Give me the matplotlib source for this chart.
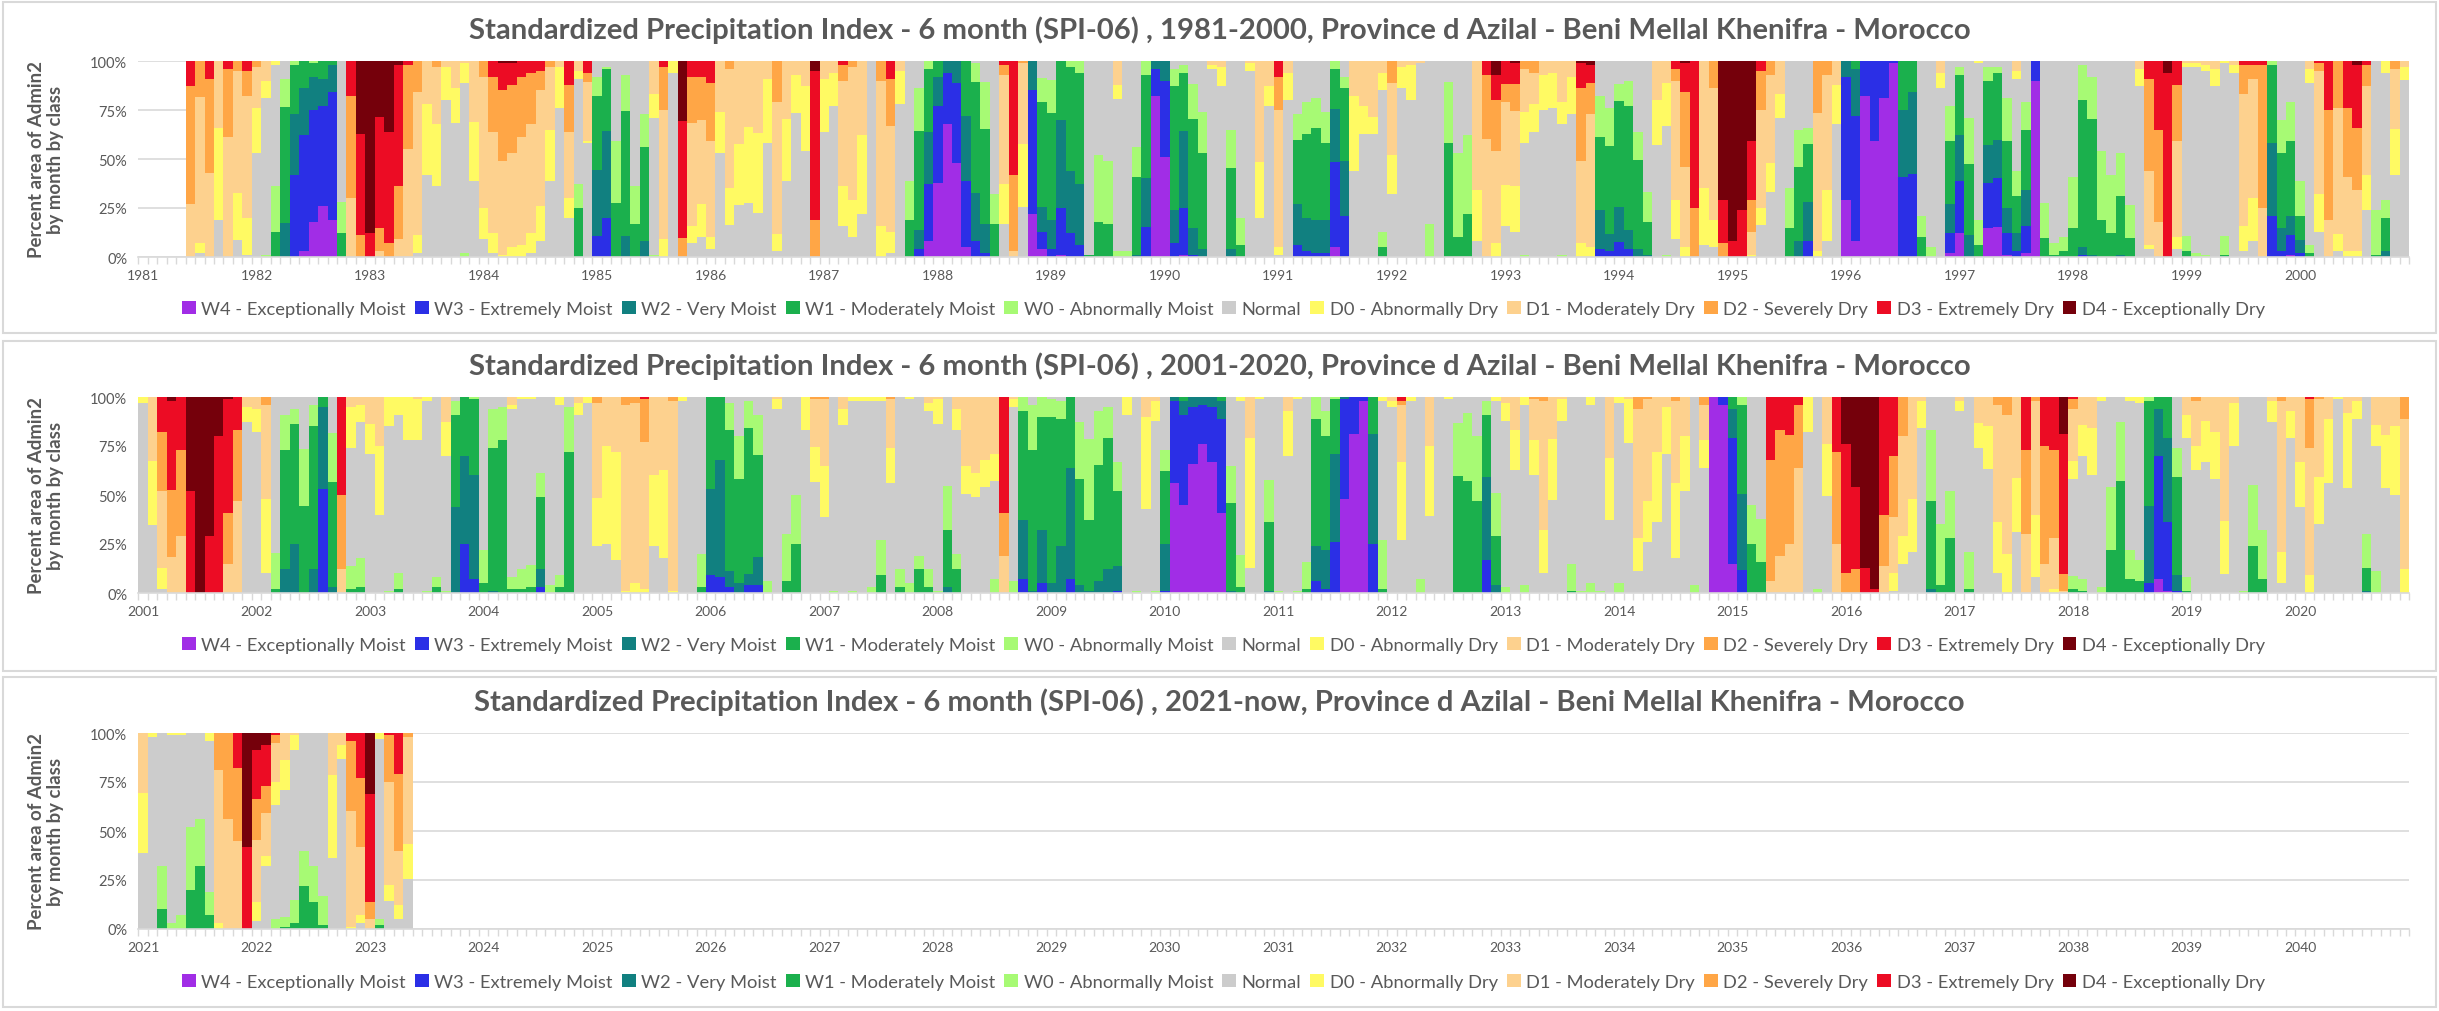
import numpy as np
import matplotlib
matplotlib.use("Agg")
import matplotlib.pyplot as plt
from matplotlib.patches import Patch, Rectangle

plt.rcParams['font.family'] = ['Lato', 'DejaVu Sans']

# ---------------- data ----------------
CLASSES = ["W4", "W3", "W2", "W1", "W0", "N", "D0", "D1", "D2", "D3", "D4"]
LABELS = ["W4 - Exceptionally Moist", "W3 - Extremely Moist", "W2 - Very Moist",
          "W1 - Moderately Moist", "W0 - Abnormally Moist", "Normal",
          "D0 - Abnormally Dry", "D1 - Moderately Dry", "D2 - Severely Dry",
          "D3 - Extremely Dry", "D4 - Exceptionally Dry"]
COLORS = ["#A12DE6", "#2B2FE6", "#118080", "#1BB04D", "#A7FA74", "#CCCCCC",
          "#FFFA63", "#FDD18E", "#FFA646", "#EC0C24", "#75000B"]

# percent area per class, one string per month (Jan..Dec)
months_1981_2000 = [
    "", "", "", "", "", "D3 13 D2 60 D1 27", "D2 18 D1 74 D0 5 N 2", "D3 9 D2 48 D1 43",
    "D1 34 D0 47 N 19", "D3 4 D2 35 D1 62", "D2 5 D1 63 D0 24 N 9", "D3 5 D2 13 D1 62 D0 19 N 1",
    # 1982
    "D2 3 D1 21 D0 23 N 53", "D1 10 D0 9 N 80 W0 1", "D0 2 N 62 W0 23 W1 13", "N 9 W0 14 W1 59 W2 17",
    "W0 2 W1 25 W2 31 W3 42", "W1 14 W2 24 W3 59 W4 3", "W0 1 W1 7 W2 17 W3 57 W4 18", "W1 9 W2 14 W3 51 W4 26",
    "W1 2 W2 14 W3 65 W4 19", "N 72 W0 16 W1 12", "D3 18 D2 52 D1 30", "D4 37 D3 52 D2 11",
    # 1983
    "D4 88 D3 12", "D4 29 D3 57 D2 12 D1 3", "D4 36 D3 57 D2 7", "D4 2 D3 62 D2 27 D1 9",
    "D3 2 D2 43 D1 55", "D2 16 D1 73 D0 9 N 2", "D1 22 D0 36 N 42", "D2 3 D1 29 D0 32 N 36",
    "D1 3 D0 17 N 80", "D1 14 D0 18 N 69", "D1 1 D0 10 N 87 W0 2", "D1 31 D0 30 N 39",
    # 1984
    "D2 8 D1 67 D0 16 N 9", "D3 8 D2 28 D1 52 D0 10 N 2", "D4 1 D3 14 D2 36 D1 48 D0 1", "D4 1 D3 11 D2 35 D1 48 D0 5",
    "D3 8 D2 31 D1 56 D0 6", "D3 6 D2 26 D1 56 D0 10 N 2", "D3 5 D2 10 D1 59 D0 18 N 8", "D2 3 D1 32 D0 26 N 39",
    "D1 3 D0 21 N 77", "D3 12 D2 24 D1 34 D0 10 N 20", "D1 5 D0 4 N 54 W0 12 W1 25", "D3 6 D2 5 D1 30 D0 1 N 59",
    # 1985
    "N 8 W0 10 W1 38 W2 34 W3 11", "N 3 W0 1 W1 32 W2 45 W3 20", "N 41 W0 32 W1 28", "N 7 W0 19 W1 64 W2 11",
    "N 64 W0 19 W1 17", "N 27 W0 17 W1 48 W2 8", "D1 17 D0 12 N 70 W0 1", "D3 3 D2 22 D1 65 D0 9",
    "D0 6 N 94", "D4 31 D3 60 D2 10", "D3 8 D2 24 D1 53 D0 9 N 7", "D3 8 D2 22 D1 43 D0 17 N 10",
    # 1986
    "D3 11 D2 30 D1 49 D0 6 N 4", "D1 26 D0 21 N 53", "D2 4 D1 60 D0 19 N 16", "D1 43 D0 31 N 27",
    "D1 33 D0 38 N 27", "D1 36 D0 40 N 22", "D1 9 D0 32 N 57", "D2 21 D1 68 D0 9 N 3",
    "D1 30 D0 32 N 39", "D1 7 D0 20 N 74", "D1 13 D0 33 N 54", "D4 5 D3 76 D2 19",
    # 1987
    "D1 9 D0 27 N 64", "D1 6 D0 17 N 77", "D3 2 D2 8 D1 54 D0 20 N 16", "D2 3 D1 68 D0 19 N 10",
    "D1 38 D0 40 N 22", "N 100", "D2 10 D1 74 D0 16", "D3 9 D2 24 D1 54 D0 11 N 2",
    "D1 5 D0 17 N 78", "N 61 W0 20 W1 19", "N 14 W0 22 W1 51 W2 10 W3 4", "W0 4 W1 32 W2 27 W3 29 W4 8",
    # 1988
    "W1 8 W2 15 W3 40 W4 38", "W2 6 W3 26 W4 67", "W2 11 W3 41 W4 48", "W1 28 W2 33 W3 34 W4 5",
    "N 1 W0 10 W1 57 W2 25 W3 8", "N 11 W0 24 W1 49 W2 15 W3 2", "N 68 W0 15 W1 17", "D3 2 D2 5 D1 56 D0 20 N 17",
    "D3 58 D2 39 D1 3", "D2 1 D1 42 D0 32 N 26", "W2 15 W3 63 W4 22", "N 9 W0 12 W1 54 W2 13 W3 9 W4 4",
    # 1989
    "N 10 W0 17 W1 55 W2 15 W3 4", "W1 30 W2 45 W3 24 W4 1", "W0 3 W1 53 W2 32 W3 12", "W0 6 W1 57 W2 31 W3 6",
    "N 99 W1 1", "N 48 W0 34 W1 18", "N 51 W0 32 W1 17", "D1 12 D0 7 N 77 W0 3",
    "N 97 W0 3", "N 44 W0 15 W1 40 W2 1", "W0 7 W1 52 W2 25 W3 15", "W2 4 W3 14 W4 83",
    # 1990
    "W2 10 W3 39 W4 51", "N 4 W0 9 W1 63 W2 17 W3 7", "N 2 W0 4 W1 30 W2 40 W3 24 W4 1", "N 12 W0 18 W1 56 W2 14 W3 1",
    "N 26 W0 21 W1 49 W2 4", "D1 2 D0 2 N 96", "D1 3 D0 10 N 87", "N 35 W0 19 W1 41 W2 4",
    "N 80 W0 14 W1 6", "D1 1 D0 4 N 95", "D1 52 D0 29 N 20", "D1 13 D0 10 N 77",
    # 1991
    "D3 8 D2 17 D1 70 D0 4 N 1", "D1 6 D0 14 N 80", "N 27 W0 13 W1 32 W2 21 W3 6", "N 21 W0 16 W1 43 W2 17 W3 3",
    "N 19 W0 15 W1 47 W2 17 W3 2", "N 26 W0 16 W1 39 W2 17 W3 2", "W0 4 W1 20 W2 27 W3 43 W4 5", "N 8 W0 6 W1 37 W2 28 W3 21",
    "D1 18 D0 38 N 44", "D1 23 D0 14 N 63", "D1 29 D0 9 N 64", "D1 6 D0 9 N 73 W0 8 W1 5",
    # 1992
    "D2 11 D1 37 D0 20 N 32", "D1 3 D0 11 N 86", "D1 2 D0 18 N 81", "D1 1 N 99",
    "N 83 W0 17", "N 100", "N 11 W0 31 W1 59", "N 47 W0 43 W1 10",
    "N 38 W0 40 W1 22", "D1 66 D0 26 N 8", "D3 7 D2 33 D1 60", "D4 7 D3 13 D2 26 D1 47 D0 7",
    # 1993
    "D3 12 D2 9 D1 43 D0 21 N 16", "D4 1 D3 11 D2 14 D1 39 D0 24 N 13", "D2 4 D1 22 D0 16 N 57 W0 1", "D2 6 D1 16 D0 14 N 64",
    "D1 7 D0 18 N 75", "D1 6 D0 18 N 76", "D1 21 D0 11 N 67 W0 1", "D1 8 D0 19 N 73",
    "D4 1 D3 13 D2 37 D1 42 D0 7", "D4 2 D3 9 D2 16 D1 68 D0 5", "N 18 W0 21 W1 38 W2 20 W3 4", "N 24 W0 20 W1 45 W2 9 W3 3",
    # 1994
    "N 12 W0 9 W1 55 W2 18 W3 8", "N 10 W0 13 W1 63 W2 10 W3 4", "N 36 W0 14 W1 45 W2 4", "N 67 W0 15 W1 17 W2 1",
    "D1 20 D0 23 N 57", "D1 11 D0 22 N 66 W0 1", "D3 4 D2 6 D1 61 D0 20 N 9", "D4 1 D3 15 D2 38 D1 41 D0 5",
    "D3 75 D2 25", "D1 65 D0 29 N 6", "D2 14 D1 67 D0 14 N 5", "D4 71 D3 22 D2 7",
    # 1995
    "D4 93 D3 8", "D4 76 D3 24", "D4 41 D3 30 D2 16 D1 12 D0 1", "D3 5 D2 20 D1 49 D0 9 N 16",
    "D2 7 D1 45 D0 15 N 33", "D1 17 D0 12 N 71", "N 65 W0 20 W1 15", "N 35 W0 19 W1 38 W2 8",
    "N 34 W0 8 W1 29 W2 20 W3 8", "D2 27 D1 71 D0 3", "D2 7 D1 59 D0 26 N 8", "D1 12 D0 20 N 67",
    # 1996
    "W2 8 W3 63 W4 29", "W1 4 W2 24 W3 64 W4 8", "W3 18 W4 83", "W3 41 W4 59",
    "W3 19 W4 81", "W3 1 W4 99", "W1 25 W2 35 W3 41", "W1 16 W2 42 W3 43",
    "N 79 W0 11 W1 10", "N 95 W0 5", "D1 6 D0 8 N 86", "N 23 W0 18 W1 32 W2 15 W3 10 W4 2",
    # 1997
    "N 3 W0 4 W1 31 W2 23 W3 27 W4 12", "N 29 W0 23 W1 36 W2 11", "D0 1 N 80 W0 13 W1 6", "N 3 W0 7 W1 33 W2 19 W3 23 W4 15",
    "N 3 W0 3 W1 34 W2 19 W3 25 W4 15", "N 19 W0 22 W1 34 W2 13 W3 11 W4 1", "D1 5 D0 4 N 47 W0 13 W1 19 W2 9 W3 3", "N 21 W0 14 W1 31 W2 18 W3 14 W4 2",
    "W3 10 W4 90", "N 73 W0 18 W1 10", "N 94 W0 6 W1 1", "N 90 W0 7 W1 3",
    # 1998
    "N 59 W0 26 W1 15", "N 2 W0 18 W1 75 W2 4 W3 1", "N 8 W0 22 W1 70 W2 1", "N 46 W0 35 W1 19",
    "N 58 W0 30 W1 12", "N 47 W0 22 W1 30 W2 1", "N 74 W0 17 W1 10", "D1 4 D0 9 N 87",
    "D3 9 D2 47 D1 38 D0 2 N 4", "D3 35 D2 47 D1 18", "D4 6 D3 94", "D3 12 D2 29 D1 49 D0 6 N 4",
    # 1999
    "D1 1 D0 2 N 87 W0 8 W1 3", "D1 1 D0 2 N 95 W0 2", "D1 2 D0 3 N 94 W0 1", "D1 4 D0 9 N 87",
    "D0 1 N 89 W0 10 W1 1", "D1 2 D0 4 N 94", "D3 2 D2 15 D1 68 D0 13 N 3", "D3 2 D2 7 D1 61 D0 22 N 8",
    "D3 2 D2 73 D1 25", "W0 2 W1 40 W2 37 W3 21", "N 30 W0 17 W1 38 W2 12 W3 3", "N 21 W0 20 W1 38 W2 10 W3 10 W4 1",
    # 2000
    "N 62 W0 18 W1 12 W2 7 W3 2", "D1 4 D0 7 N 83 W0 4 W1 2", "D3 1 D2 4 D1 63 D0 19 N 13", "D3 25 D2 56 D1 19",
    "D2 24 D1 65 D0 9 N 3", "D3 24 D2 36 D1 38 D0 3", "D4 2 D3 33 D2 32 D1 32 D0 3", "D3 2 D2 11 D1 45 D0 18 N 24",
    "N 76 W0 23 W1 1", "D0 6 N 65 W0 9 W1 17 W2 3", "D2 4 D1 31 D0 24 N 42", "D1 3 D0 7 N 91",
]

months_2001_2020 = [
    # 2001
    "D0 3 N 97", "D1 33 D0 33 N 35", "D3 18 D2 30 D1 39 D0 11 N 2", "D4 2 D3 45 D2 34 D1 18",
    "D3 27 D2 44 D1 29", "D4 48 D3 52", "D4 100", "D4 71 D3 29",
    "D4 20 D3 80", "D4 1 D3 58 D2 26 D1 15", "D3 17 D2 36 D1 47", "D1 5 D0 8 N 87",
    # 2002
    "D1 6 D0 12 N 82", "D2 4 D1 48 D0 38 N 10", "N 79 W0 18 W1 2", "N 9 W0 18 W1 61 W2 12",
    "N 6 W0 8 W1 61 W2 25", "N 27 W0 29 W1 45", "N 4 W0 11 W1 73 W2 12", "W1 5 W2 42 W3 53",
    "N 18 W0 25 W1 53 W2 3", "D3 50 D2 38 D1 12", "D1 5 D0 21 N 60 W0 12 W1 2", "D1 4 D0 9 N 69 W0 15 W1 3",
    # 2003
    "D1 14 D0 15 N 71", "D1 25 D0 35 N 40", "D0 15 N 84 W0 1", "D0 9 N 80 W0 8 W1 2",
    "D0 22 N 78", "D1 1 D0 21 N 78", "D0 2 N 96 W0 1", "N 92 W0 5 W1 3",
    "D1 13 D0 17 N 69 W0 1", "N 2 W0 7 W1 47 W2 44", "W1 30 W2 45 W3 25", "W0 1 W1 39 W2 53 W3 7",
    # 2004
    "N 79 W0 17 W1 5", "N 6 W0 20 W1 73 W2 1", "N 5 W0 17 W1 78", "D1 4 D0 2 N 86 W0 6 W1 2",
    "D0 1 N 87 W0 10 W1 2", "D0 1 N 84 W0 11 W1 3", "N 39 W0 12 W1 37 W2 9 W3 3", "N 96 W0 4",
    "D0 4 N 87 W0 6 W1 3", "N 5 W0 23 W1 72", "D1 3 D0 6 N 91", "D0 3 N 97",
    # 2005
    "D2 3 D1 49 D0 25 N 24", "D1 25 D0 49 N 25", "D1 28 D0 55 N 17", "D2 4 D1 95 D0 1",
    "D2 3 D1 92 D0 5", "D3 1 D2 22 D1 75 D0 2", "D1 40 D0 36 N 24", "D1 37 D0 45 N 18",
    "D2 2 D1 96 D0 1", "D0 2 N 98", "N 100", "N 80 W0 17 W1 3",
    # 2006
    "W1 47 W2 44 W3 9", "W1 32 W2 60 W3 8", "N 3 W0 14 W1 72 W2 8 W3 3", "N 20 W0 22 W1 53 W2 5",
    "N 2 W0 14 W1 75 W2 6 W3 4", "N 9 W0 20 W1 51 W2 14 W3 4", "N 94 W0 6", "D1 1 D0 5 N 94",
    "N 70 W0 24 W1 6", "N 50 W0 25 W1 25", "D0 17 N 83", "D2 1 D1 25 D0 18 N 58",
    # 2007
    "D2 1 D1 34 D0 26 N 39", "N 99 W0 1", "D1 6 D0 8 N 85", "D0 2 N 97 W0 1",
    "D0 2 N 98", "D0 2 N 95 W0 3", "D0 2 N 71 W0 18 W1 9", "D2 1 D1 25 D0 18 N 56",
    "N 88 W0 9 W1 3", "D0 1 N 94 W0 5", "N 81 W0 7 W1 12", "D1 3 D0 4 N 81 W0 9 W1 3",
    # 2008
    "D1 1 D0 13 N 86 W0 1", "N 45 W0 22 W1 29 W2 3", "D1 6 D0 11 N 63 W0 8 W1 12", "D1 35 D0 14 N 50",
    "D1 39 D0 12 N 49", "D1 32 D0 14 N 54", "D1 29 D0 14 N 50 W0 7", "D3 59 D2 22 D1 19",
    "D1 1 D0 4 N 89 W0 6", "W0 7 W1 56 W2 30 W3 7", "N 4 W0 23 W1 72 W2 1", "W0 10 W1 58 W2 27 W3 5",
    # 2009
    "N 1 W0 9 W1 85 W2 5", "N 2 W0 9 W1 65 W2 24", "W1 36 W2 56 W3 7", "N 13 W0 29 W1 54 W2 4",
    "N 21 W0 41 W1 36 W2 1", "N 7 W0 28 W1 60 W2 6", "N 5 W0 16 W1 67 W2 12", "N 33 W0 15 W1 38 W2 13 W3 1",
    "D0 9 N 91", "N 99 W0 1", "D1 10 D0 47 N 43", "D1 2 D0 10 N 87 W0 1",
    # 2010
    "N 27 W0 11 W1 37 W2 24 W3 1", "W2 2 W3 42 W4 56", "W1 2 W2 7 W3 46 W4 45", "W2 5 W3 29 W4 65",
    "W2 4 W3 20 W4 76", "W2 5 W3 28 W4 67", "W1 2 W2 9 W3 48 W4 41", "N 35 W0 19 W1 45 W2 1",
    "D0 2 N 78 W0 16 W1 3", "D1 21 D0 66 N 13", "D0 1 N 99", "N 42 W0 21 W1 35 W2 1",
    # 2011
    "N 99 W0 1", "D1 7 D0 23 N 70", "D0 1 N 98 W0 1", "N 84 W0 14 W1 2",
    "W0 11 W1 65 W2 18 W3 6", "N 7 W0 13 W1 59 W2 20 W3 2", "W0 1 W1 28 W2 45 W3 26", "W2 1 W3 51 W4 48",
    "W3 19 W4 81", "W3 2 W4 98", "W1 19 W2 56 W3 25", "D0 2 N 71 W0 25 W1 2",
    # 2012
    "D1 2 D0 3 N 94", "D3 2 D2 2 D1 29 D0 39 N 27", "D0 2 N 98", "N 93 W0 7",
    "D1 25 D0 35 N 39", "N 100", "D0 1 N 99", "N 13 W0 27 W1 59",
    "N 8 W0 35 W1 57", "N 20 W0 33 W1 47", "N 2 W0 7 W1 32 W2 42 W3 17", "D0 2 N 47 W0 22 W1 25 W2 4",
    # 2013
    "D1 3 D0 9 N 85 W0 3", "D1 17 D0 20 N 63", "D0 4 N 92 W0 4", "D2 1 D1 21 D0 18 N 60",
    "D2 2 D1 66 D0 22 N 10", "D1 21 D0 31 N 47", "D1 1 D0 11 N 88", "N 85 W0 14 W1 1",
    "N 99 W0 1", "D0 4 N 91 W0 5", "N 99 W0 1", "D1 31 D0 32 N 37",
    # 2014
    "D0 3 N 92 W0 5", "D1 1 D0 22 N 76", "D2 6 D1 66 D0 17 N 11", "D2 1 D1 52 D0 21 N 26",
    "D1 28 D0 36 N 36", "D1 5 D0 24 N 71", "D2 2 D1 42 D0 38 N 18", "D1 20 D0 28 N 52",
    "N 96 W0 4", "D2 4 D1 18 D0 14 N 64", "W4 100", "W3 4 W4 96",
    # 2015
    "W1 6 W2 15 W3 64 W4 15", "W0 4 W1 46 W2 39 W3 12", "N 55 W0 20 W1 25", "N 62 W0 22 W1 16",
    "D3 32 D2 62 D1 6", "D3 17 D2 64 D1 19", "D3 19 D2 55 D1 25", "D3 4 D2 32 D1 64",
    "D0 18 N 82", "N 98 W0 2", "D1 24 D0 27 N 50", "D3 28 D2 47 D1 25",
    # 2016
    "D4 24 D3 66 D2 10", "D4 46 D3 42 D2 12", "D4 87 D3 13", "D4 98 D3 2",
    "D3 60 D2 26 D1 14", "D3 30 D2 31 D1 29 D0 9 N 1", "D2 20 D1 51 D0 14 N 15", "D1 52 D0 27 N 21",
    "D1 2 D0 14 N 84", "N 17 W0 36 W1 45 W2 2", "N 65 W0 31 W1 4", "N 48 W0 24 W1 28",
    # 2017
    "D1 2 D0 5 N 93", "N 79 W0 19 W1 2", "D1 13 D0 13 N 73", "D1 15 D0 22 N 64",
    "D2 4 D1 60 D0 26 N 10", "D2 9 D1 71 D0 20", "D1 41 D0 27 N 31", "D3 27 D2 42 D1 30",
    "D2 2 D1 59 D0 32 N 8", "D3 25 D2 60 D1 15", "D3 27 D2 45 D1 26 D0 2", "D4 19 D3 72 D2 9 D1 1",
    # 2018
    "D3 1 D2 5 D1 27 D0 9 N 50 W0 7 W1 2", "D1 14 D0 16 N 62 W0 6 W1 1", "D1 16 D0 24 N 61", "D0 2 N 95 W0 3",
    "N 46 W0 32 W1 22", "N 13 W0 30 W1 57", "D0 2 N 76 W0 15 W1 7", "D0 3 N 80 W0 11 W1 6",
    "W0 2 W1 54 W2 40 W3 5", "W1 6 W2 24 W3 62 W4 7", "W1 21 W2 43 W3 35 W4 1", "N 26 W0 15 W1 50 W2 8 W3 1",
    # 2019
    "D1 9 D0 12 N 71 W0 7 W1 1", "D2 2 D1 23 D0 12 N 63", "D1 12 D0 21 N 66", "D1 18 D0 24 N 58",
    "D1 64 D0 27 N 10", "D1 3 D0 22 N 75", "N 99 W0 1", "N 45 W0 31 W1 24",
    "N 68 W0 25 W1 7", "D1 2 D0 11 N 87", "D2 2 D1 77 D0 16 N 5", "D1 7 D0 14 N 79",
    # 2020
    "D1 33 D0 23 N 44", "D3 1 D2 25 D1 65 D0 9", "D2 1 D1 40 D0 24 N 35", "D1 11 D0 33 N 56",
    "D0 1 N 99", "D1 8 D0 38 N 53", "D1 2 D0 9 N 89", "N 70 W0 17 W1 12 W2 1",
    "D1 14 D0 11 N 63 W0 11", "D1 19 D0 27 N 53", "D1 15 D0 35 N 50", "D2 11 D1 77 D0 12",
]

months_2021_now = [
    # 2021
    "D1 31 D0 31 N 39", "D0 2 N 98", "N 68 W0 22 W1 10", "D0 1 N 96 W0 3",
    "D0 1 N 92 W0 7", "N 48 W0 32 W1 20", "N 44 W0 24 W1 32", "D0 4 N 77 W0 12 W1 7",
    "D2 19 D1 78 D0 3", "D2 44 D1 56", "D3 18 D2 37 D1 45", "D4 58 D3 42",
    # 2022
    "D4 9 D3 25 D2 21 D1 32 D0 10 N 4", "D4 6 D3 21 D2 14 D1 22 D0 5 N 32",
    "D3 1 D2 4 D1 20 D0 12 N 59 W0 5", "D1 14 D0 15 N 65 W0 5 W1 1",
    "D1 1 D0 8 N 77 W0 12 W1 3", "N 60 W0 18 W1 22", "N 68 W0 18 W1 14", "N 83 W0 15 W1 2",
    "D1 21 D0 42 N 36", "D1 6 D0 7 N 86", "D3 4 D2 36 D1 59 D0 1", "D3 23 D2 35 D1 35 D0 4 N 3",
    # 2023
    "D4 31 D3 55 D2 9 D1 5", "D0 3 N 92 W0 3 W1 2", "D3 1 D2 24 D1 52 D0 8 N 14",
    "D3 21 D2 39 D1 28 D0 7 N 5", "D2 2 D1 55 D0 18 N 26",
]

years_1 = list(range(1981, 2001))
years_2 = list(range(2001, 2021))
years_3 = list(range(2021, 2041))

TITLES = [
    "Standardized Precipitation Index - 6 month (SPI-06) , 1981-2000, Province d Azilal - Beni Mellal Khenifra - Morocco",
    "Standardized Precipitation Index - 6 month (SPI-06) , 2001-2020, Province d Azilal - Beni Mellal Khenifra - Morocco",
    "Standardized Precipitation Index - 6 month (SPI-06) , 2021-now, Province d Azilal - Beni Mellal Khenifra - Morocco",
]
YLABEL = "Percent area of Admin2\nby month by class"


def parse(months):
    arr = np.zeros((len(CLASSES), len(months)))
    for j, s in enumerate(months):
        toks = s.split()
        for c, v in zip(toks[::2], toks[1::2]):
            arr[CLASSES.index(c), j] += float(v)
        tot = arr[:, j].sum()
        if tot > 0:
            arr[:, j] *= 100.0 / tot
    return arr


# ---------------- layout ----------------
W, H = 2439, 1012
TXT = "#595959"
GRID = "#D9D9D9"
fig = plt.figure(figsize=(W / 100, H / 100), dpi=100)


def fx(px):
    return px / W


def fy(py):
    return 1 - py / H


X0, X1 = 138.3, 2409.0
panels = [
    (months_1981_2000, years_1, TITLES[0], 62, 30, 310, (3, 334)),
    (months_2001_2020, years_2, TITLES[1], 398, 366, 646, (342, 672)),
    (months_2021_now, years_3, TITLES[2], 734, 702, 983, (678, 1008)),
]

titles, axes, ylabels = [], [], []
for months, years, title, top, ty, ly, box in panels:
    data = parse(months)
    ax = fig.add_axes([fx(X0), fy(top + 196), fx(X1) - fx(X0), 196 / H])
    axes.append(ax)
    x = np.arange(data.shape[1]) + 0.5
    bottom = np.zeros(data.shape[1])
    for i in range(len(CLASSES)):
        ax.bar(x, data[i], bottom=bottom, width=1.0, color=COLORS[i],
               linewidth=0, antialiased=False, zorder=2)
        bottom += data[i]
    ax.set_xlim(0, 240)
    ax.set_ylim(0, 100)
    ax.set_yticks([0, 25, 50, 75, 100])
    ax.set_yticklabels(["0%", "25%", "50%", "75%", "100%"])
    ax.yaxis.grid(True, color=GRID, linewidth=1.2, zorder=0)
    ax.set_axisbelow(True)
    ax.set_xticks([12 * i + 0.5 for i in range(20)])
    ax.set_xticklabels([str(y) for y in years])
    ax.set_xticks(np.arange(0, 241), minor=True)
    ax.tick_params(axis='x', which='major', length=0, pad=9, labelsize=10, labelcolor=TXT)
    ax.tick_params(axis='x', which='minor', length=5, width=1, color=GRID)
    ax.tick_params(axis='y', length=0, pad=8, labelsize=10.5, labelcolor=TXT)
    for s in ['top', 'right', 'left']:
        ax.spines[s].set_visible(False)
    ax.spines['bottom'].set_color(GRID)
    ax.spines['bottom'].set_linewidth(1.2)
    yl = fig.text(fx(46), fy(top + 98), YLABEL, rotation=90, ha='center', va='center',
                  fontsize=12, fontweight='bold', color=TXT, linespacing=1.1, multialignment='center')
    ylabels.append(yl)
    t = fig.text(0.5, fy(ty), title, ha='center', va='center', fontsize=16,
                 fontweight='bold', color=TXT)
    titles.append(t)
    fig.add_artist(Rectangle((fx(3), fy(box[1])), fx(2436) - fx(3), (box[1] - box[0]) / H,
                             transform=fig.transFigure, fill=False, edgecolor=GRID, linewidth=1.5))

handles = [Patch(facecolor=c, edgecolor='none') for c in COLORS]
legends = []


def make_legends(fs, cs):
    for lg in legends:
        lg.remove()
    legends.clear()
    for p in panels:
        ly = p[5]
        lg = fig.legend(handles, LABELS, loc='center', bbox_to_anchor=(fx(1223.5), fy(ly)),
                        ncol=11, frameon=False, fontsize=fs, handlelength=0.75, handleheight=0.75,
                        handletextpad=0.3, columnspacing=cs, borderpad=0, borderaxespad=0,
                        labelcolor=TXT)
        legends.append(lg)


fig.canvas.draw()
r = fig.canvas.get_renderer()
# fit title size to the reference width
w = titles[0].get_window_extent(r).width
fs_t = 16 * 1505.0 / w
for t in titles:
    t.set_fontsize(fs_t)
# fit y-label so that its long line spans about 196 px
h = ylabels[0].get_window_extent(r).height
fs_y = 12 * 196.0 / h
for yl in ylabels:
    yl.set_fontsize(fs_y)

fs_l, cs = 12.0, 1.0
make_legends(fs_l, cs)
fig.canvas.draw()
w = legends[0].get_texts()[0].get_window_extent(r).width
fs_l = fs_l * 204.0 / w
make_legends(fs_l, cs)
fig.canvas.draw()
wl = legends[0].get_window_extent(r).width
cs = cs + (2083.0 - wl) / (10 * fs_l * 100 / 72.0)
make_legends(fs_l, cs)

fig.savefig("out.png", dpi=100)
